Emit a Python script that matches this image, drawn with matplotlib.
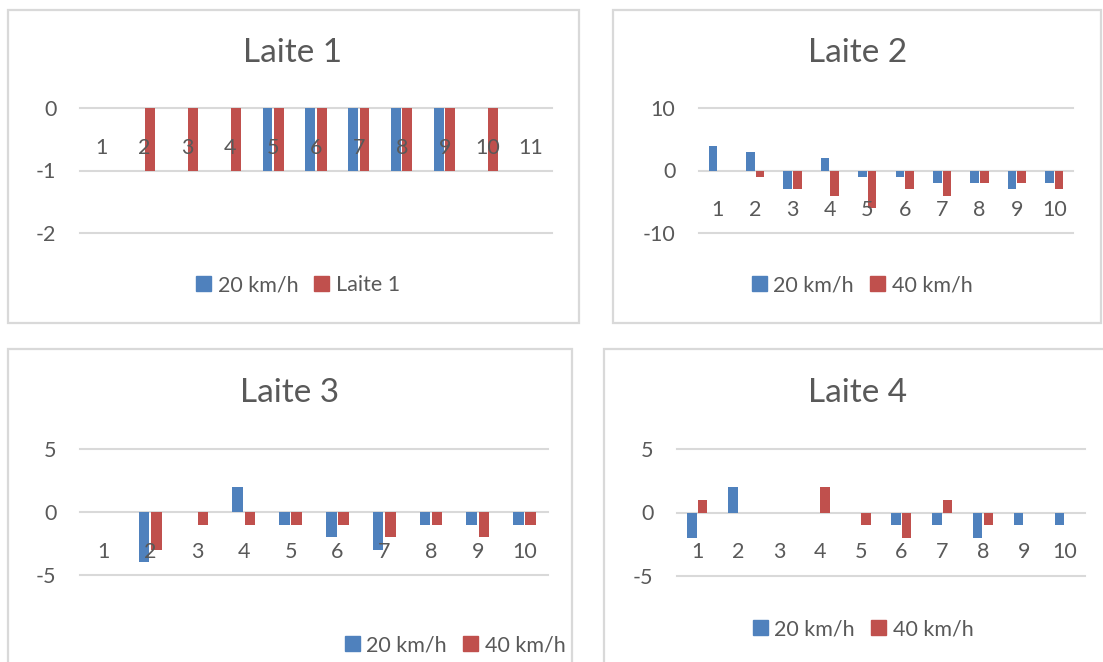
import matplotlib.pyplot as plt
from matplotlib.patches import Rectangle, Patch

plt.rcParams['font.family'] = ['Lato', 'DejaVu Sans']

W, H = 1103, 662
BLUE = '#4F81BD'
RED = '#C0504D'
TXT = '#595959'
GRID = '#D9D9D9'
FS = 15.5

# Laite 1
l1_cats = [str(i) for i in range(1, 12)]
l1_20 = [0, 0, 0, 0, -1, -1, -1, -1, -1, 0, 0]
l1_b = [0, -1, -1, -1, -1, -1, -1, -1, -1, -1, 0]
l1_ticks = [-2, -1, 0]

# Laite 2
l2_cats = [str(i) for i in range(1, 11)]
l2_20 = [4, 3, -3, 2, -1, -1, -2, -2, -3, -2]
l2_40 = [0, -1, -3, -4, -6, -3, -4, -2, -2, -3]
l2_ticks = [-10, 0, 10]

# Laite 3
l3_cats = [str(i) for i in range(1, 11)]
l3_20 = [0, -4, 0, 2, -1, -2, -3, -1, -1, -1]
l3_40 = [0, -3, -1, -1, -1, -1, -2, -1, -2, -1]
l3_ticks = [-5, 0, 5]

# Laite 4
l4_cats = [str(i) for i in range(1, 11)]
l4_20 = [-2, 2, 0, 0, 0, -1, -1, -2, -1, -1]
l4_40 = [1, 0, 0, 2, -1, -2, 1, -1, 0, 0]
l4_ticks = [-5, 0, 5]

fig = plt.figure(figsize=(W / 100, H / 100), dpi=100)


def px_box(x0, y0, x1, y1):
    return [x0 / W, (H - y1) / H, (x1 - x0) / W, (y1 - y0) / H]


def frame(x0, y0, x1, y1):
    r = Rectangle((x0 / W, (H - y1) / H), (x1 - x0) / W, (y1 - y0) / H,
                  transform=fig.transFigure, fill=False, ec=GRID, lw=1.6)
    fig.patches.append(r)


def panel(box, title, title_xy, cats, s1, s2, ticks, names, leg_xy):
    ax = fig.add_axes(px_box(*box))
    n = len(cats)
    x = list(range(1, n + 1))
    w = 0.23
    ax.bar([i - 0.13 for i in x], s1, w, color=BLUE, lw=0, zorder=3)
    ax.bar([i + 0.13 for i in x], s2, w, color=RED, lw=0, zorder=3)
    ax.set_xlim(0.5, n + 0.5)
    ax.set_ylim(ticks[0], ticks[-1])
    ax.set_yticks(ticks)
    ax.set_yticklabels([str(t) for t in ticks], fontsize=FS, color=TXT)
    ax.tick_params(axis='y', length=0, pad=17)
    ax.set_xticks([])
    ax.grid(axis='y', color=GRID, lw=1.5, zorder=0)
    for gl in ax.get_ygridlines():
        gl.set_clip_on(False)
    for s in ax.spines.values():
        s.set_visible(False)
    ax.patch.set_alpha(0)
    # category labels sit a fixed distance below the zero line
    for i, c in zip(x, cats):
        ax.annotate(c, (i, 0), xytext=(0, -40), textcoords='offset pixels',
                    ha='center', va='center', fontsize=FS, color=TXT)
    fig.text(title_xy[0] / W, 1 - title_xy[1] / H, title, ha='center', va='center',
             fontsize=24, color=TXT)
    handles = [Patch(color=BLUE, label=names[0]), Patch(color=RED, label=names[1])]
    fig.legend(handles=handles, loc='center', ncol=2, frameon=False,
               bbox_to_anchor=(leg_xy[0] / W, 1 - leg_xy[1] / H),
               fontsize=FS, labelcolor=TXT, handlelength=0.7, handleheight=0.7,
               handletextpad=0.3, columnspacing=0.75, borderaxespad=0)
    return ax


frame(8, 10, 579, 323)
frame(613, 10, 1101, 323)
frame(8, 349, 572, 668)
frame(604, 349, 1110, 668)

panel((80, 108, 552, 233), 'Laite 1', (293, 53), l1_cats, l1_20, l1_b, l1_ticks,
      ['20 km/h', 'Laite 1'], (298, 285))
panel((699, 108, 1073, 233), 'Laite 2', (858, 53), l2_cats, l2_20, l2_40, l2_ticks,
      ['20 km/h', '40 km/h'], (862, 285))
panel((80, 449, 548, 575), 'Laite 3', (290, 393), l3_cats, l3_20, l3_40, l3_ticks,
      ['20 km/h', '40 km/h'], (455, 645))
panel((677, 449, 1085, 576), 'Laite 4', (858, 393), l4_cats, l4_20, l4_40, l4_ticks,
      ['20 km/h', '40 km/h'], (863, 629))

fig.savefig('out.png', dpi=100)
